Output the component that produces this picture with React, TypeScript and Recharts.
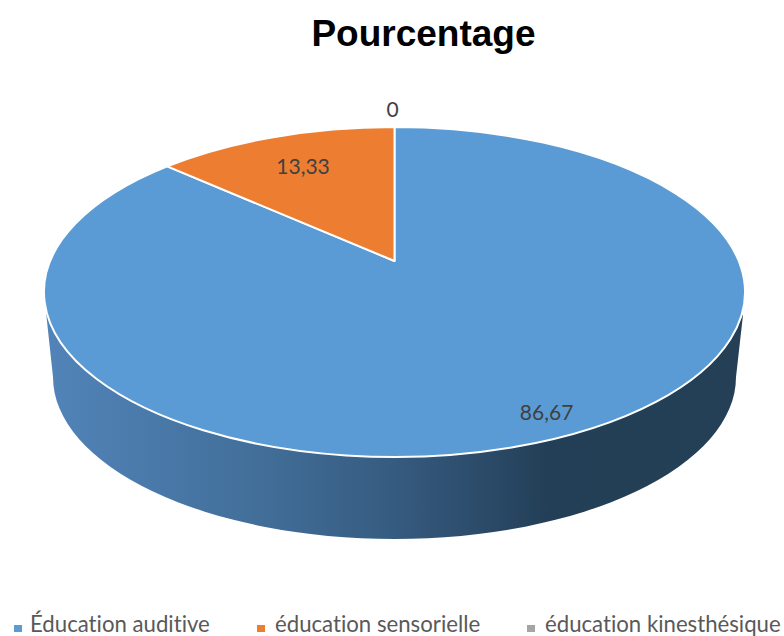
import { PieChart, Pie, Legend } from "recharts";

const categories = ["Éducation auditive", "éducation sensorielle", "éducation kinesthésique"];
const values = [86.67, 13.33, 0];
const colors = ["#5b9bd5", "#ed7d31", "#a5a5a5"];

// how far along the radius each value label sits, 1 = rim
const labelRadius = [0.88, 0.736, 1.17];
const labelNudge = [7, 0, -2];
const legendLeft = [14, 257, 527];

const data = categories.map((name, i) => ({ name, value: values[i], fill: colors[i] }));

const TILT = 165 / 350.5; // minor / major axis of the top ellipse
const PERSPECTIVE = 31 / 165; // how far the pie centre is pushed up from the ellipse centre
const FONT = "Lato, 'Open Sans', sans-serif";

// angle is clockwise from 12 o'clock
function project(cx: number, cy: number, rx: number, angle: number, r = 1) {
  const ry = rx * TILT;
  const rad = (angle * Math.PI) / 180;
  const u = r * Math.sin(rad);
  const v = r * Math.cos(rad);
  const d = 1 + PERSPECTIVE * v;
  const k = rx * Math.sqrt(1 - PERSPECTIVE * PERSPECTIVE);
  return {
    x: cx + (k * u) / d,
    y: cy - (ry * v + ry * PERSPECTIVE) / d,
  };
}

function Slice(props: any) {
  const { cx, cy, outerRadius: rx, startAngle, endAngle, fill, index } = props;
  const ry = rx * TILT;
  const from = 90 - startAngle;
  const to = 90 - endAngle;
  const apex = { x: cx, y: cy - ry * PERSPECTIVE };
  const a = project(cx, cy, rx, from);
  const b = project(cx, cy, rx, to);
  const large = to - from > 180 ? 1 : 0;
  return (
    <g>
      {index === 0 && (
        <path
          d={`M ${cx - rx + 2} ${cy + 20} L ${cx - rx + 9} ${cy + 85} A ${rx - 9} ${ry - 3} 0 0 0 ${cx + rx - 9} ${cy + 85} L ${cx + rx - 2} ${cy + 23} Z`}
          fill="url(#wallGradient)"
        />
      )}
      {to - from > 0 && (
        <path
          d={`M ${apex.x} ${apex.y} L ${a.x} ${a.y} A ${rx} ${ry} 0 ${large} 1 ${b.x} ${b.y} Z`}
          fill={fill}
          stroke="#ffffff"
          strokeWidth={2}
          strokeLinejoin="round"
        />
      )}
    </g>
  );
}

function ValueLabel(props: any) {
  const { cx, cy, outerRadius, midAngle, index, value } = props;
  const p = project(cx, cy, outerRadius, 90 - midAngle, labelRadius[index]);
  return (
    <text
      x={p.x + labelNudge[index]}
      y={p.y}
      textAnchor="middle"
      dominantBaseline="central"
      fontFamily={FONT}
      fontSize={21}
      fill="#404040"
    >
      {String(value).replace(".", ",")}
    </text>
  );
}

function LegendRow({ payload }: any) {
  return (
    <div style={{ position: "relative", width: 784, height: 30 }}>
      {(payload ?? []).map((entry: any, i: number) => (
        <div key={entry.value} style={{ position: "absolute", left: legendLeft[i], top: 0, whiteSpace: "nowrap" }}>
          <span style={{ position: "absolute", left: 0, top: 19, width: 8, height: 7, background: entry.color }} />
          <span
            style={{
              position: "absolute",
              left: i === 0 ? 16 : 18,
              top: 6,
              fontFamily: FONT,
              fontSize: 22.2,
              lineHeight: "24px",
              color: "#595959",
              fontVariantLigatures: "none",
            }}
          >
            {entry.value}
          </span>
        </div>
      ))}
    </div>
  );
}

export default function App() {
  return (
    <div style={{ position: "absolute", left: 0, top: 0, width: 784, height: 636, overflow: "hidden", background: "#ffffff" }}>
      <PieChart width={784} height={636} margin={{ top: 0, right: 0, bottom: 0, left: 0 }}>
        <defs>
          <linearGradient id="wallGradient" gradientUnits="userSpaceOnUse" x1="44" y1="0" x2="745" y2="0">
            <stop offset="0%" stopColor="#5284b9" />
            <stop offset="30%" stopColor="#426f9a" />
            <stop offset="50%" stopColor="#365b80" />
            <stop offset="72%" stopColor="#233f57" />
            <stop offset="100%" stopColor="#243f56" />
          </linearGradient>
        </defs>
        <text
          x={423.5}
          y={46}
          textAnchor="middle"
          fontFamily="'Liberation Sans', Arial, sans-serif"
          fontWeight="bold"
          fontSize={37}
          fill="#000000"
        >
          Pourcentage
        </text>
        <Pie
          data={data}
          dataKey="value"
          nameKey="name"
          cx={394.5}
          cy={292}
          innerRadius={0}
          outerRadius={350.5}
          startAngle={90}
          endAngle={-270}
          shape={Slice}
          label={ValueLabel}
          labelLine={false}
          isAnimationActive={false}
        />
        <Legend
          content={<LegendRow />}
          itemSorter={null}
          wrapperStyle={{ left: 0, top: 606, width: 784, height: 30 }}
        />
      </PieChart>
    </div>
  );
}
